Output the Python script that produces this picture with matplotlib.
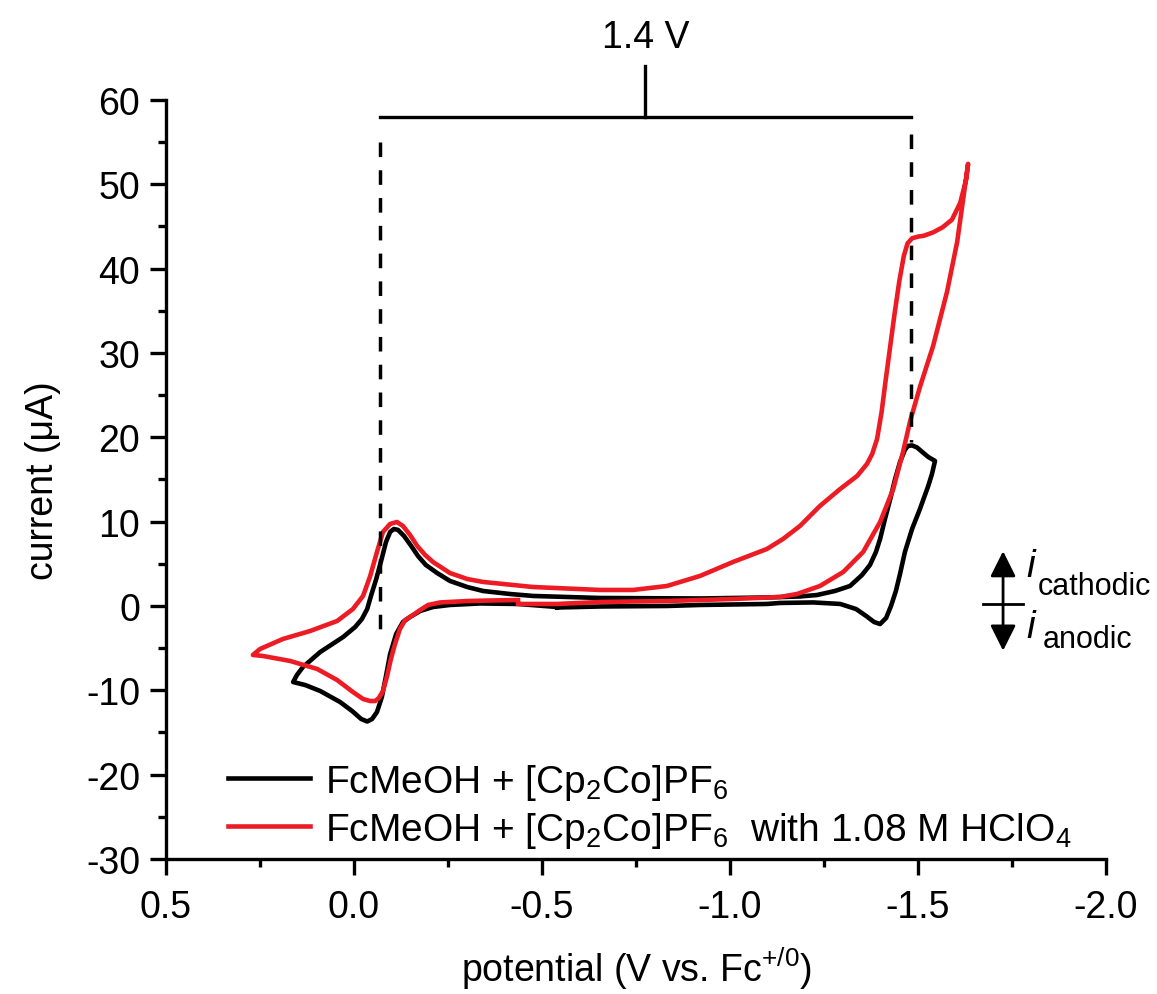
import numpy as np
import matplotlib
matplotlib.use('Agg')
import matplotlib.pyplot as plt

# cyclic voltammograms, potential (V vs Fc+/0) and current (uA)
black_v = [-0.540, -0.436, -0.335, -0.255, -0.210, -0.176, -0.149, -0.130, -0.112, -0.096,
           -0.085, -0.074, -0.061, -0.048, -0.035, -0.019, 0.005, 0.037, 0.090, 0.130,
           0.162, 0.152, 0.136, 0.090, 0.029, -0.003, -0.021, -0.035, -0.045, -0.059,
           -0.072, -0.085, -0.096, -0.106, -0.117, -0.133, -0.152, -0.170, -0.191, -0.221,
           -0.255, -0.301, -0.343, -0.415, -0.476, -0.654, -0.920, -1.098, -1.186, -1.231,
           -1.279, -1.319, -1.351, -1.372, -1.388, -1.399, -1.412, -1.426, -1.439, -1.452,
           -1.465, -1.473, -1.484, -1.497, -1.511, -1.527, -1.545, -1.537, -1.527, -1.505,
           -1.484, -1.465, -1.452, -1.441, -1.428, -1.415, -1.399, -1.383, -1.362, -1.335,
           -1.293, -1.221, -1.133, -1.098, -0.920, -0.832, -0.654, -0.540]
black_i = [-0.12, 0.24, 0.30, 0.12, -0.12, -0.59, -1.30, -1.90, -3.32, -5.69,
           -8.30, -10.79, -12.57, -13.40, -13.70, -13.40, -12.46, -11.39, -10.08, -9.37,
           -9.02, -8.19, -7.24, -5.46, -3.68, -2.49, -1.54, -0.36, 1.19, 3.20,
           5.34, 7.59, 8.78, 9.13, 9.02, 8.30, 7.12, 5.93, 4.86, 3.91,
           2.97, 2.25, 1.78, 1.42, 1.19, 0.95, 0.89, 1.01, 1.13, 1.30,
           1.78, 2.37, 3.68, 4.86, 6.41, 7.95, 10.32, 12.69, 15.07, 17.08,
           18.51, 18.98, 19.04, 18.80, 18.27, 17.67, 17.20, 15.66, 14.23, 11.51,
           9.13, 6.41, 3.80, 1.78, 0.0, -1.42, -2.14, -1.90, -1.19, -0.36,
           0.24, 0.42, 0.36, 0.24, 0.12, 0.0, -0.06, -0.18]

red_v = [-0.436, -0.362, -0.301, -0.229, -0.197, -0.176, -0.157, -0.136, -0.122, -0.109,
         -0.098, -0.088, -0.077, -0.066, -0.056, -0.043, -0.024, 0.003, 0.045, 0.098,
         0.170, 0.242, 0.269, 0.250, 0.189, 0.117, 0.045, 0.003, -0.024, -0.043,
         -0.061, -0.077, -0.096, -0.114, -0.130, -0.149, -0.168, -0.189, -0.210, -0.255,
         -0.301, -0.343, -0.476, -0.654, -0.742, -0.832, -0.920, -1.008, -1.098, -1.141,
         -1.186, -1.239, -1.293, -1.338, -1.364, -1.378, -1.391, -1.403, -1.413, -1.425,
         -1.437, -1.450, -1.462, -1.472, -1.484, -1.500, -1.515, -1.540, -1.565, -1.590,
         -1.612, -1.628, -1.633, -1.620, -1.604, -1.577, -1.540, -1.505, -1.479, -1.460,
         -1.434, -1.399, -1.354, -1.301, -1.239, -1.178, -1.133, -1.008, -0.832, -0.654,
         -0.540, -0.436]
red_i = [0.71, 0.65, 0.59, 0.42, 0.12, -0.47, -1.07, -1.66, -2.73, -4.51,
         -6.29, -8.30, -10.08, -10.91, -11.27, -11.27, -11.03, -10.20, -8.78, -7.47,
         -6.52, -5.93, -5.81, -5.10, -3.91, -2.97, -1.78, -0.36, 1.19, 3.56,
         6.41, 8.78, 9.73, 9.96, 9.49, 8.42, 7.12, 6.05, 5.22, 3.91,
         3.20, 2.85, 2.25, 1.90, 1.90, 2.37, 3.56, 5.22, 6.76, 7.95,
         9.49, 11.86, 13.88, 15.42, 16.84, 18.03, 19.81, 23.00, 26.50, 30.50,
         34.50, 38.50, 41.50, 43.00, 43.60, 43.80, 43.90, 44.30, 44.90, 45.80,
         47.80, 50.60, 52.43, 48.28, 43.18, 37.25, 30.84, 25.98, 21.95, 18.27,
         13.88, 9.96, 6.41, 4.03, 2.37, 1.42, 1.07, 0.83, 0.59, 0.47,
         0.24, 0.24]

labels = ['FcMeOH + [Cp$_{2}$Co]PF$_{6}$',
          'FcMeOH + [Cp$_{2}$Co]PF$_{6}$  with 1.08 M HClO$_{4}$']
window_left = -0.07
window_right = -1.48
window_label = '1.4 V'

plt.rcParams['font.family'] = ['Liberation Sans', 'DejaVu Sans']
plt.rcParams['mathtext.fontset'] = 'custom'
plt.rcParams['mathtext.rm'] = 'Liberation Sans'
plt.rcParams['mathtext.it'] = 'Liberation Sans:italic'
plt.rcParams['axes.unicode_minus'] = False
plt.rcParams['font.size'] = 27

fig = plt.figure(figsize=(11.57, 9.95), dpi=100)
ax = fig.add_axes([0.1435, 0.1357, 0.8125, 0.7628])

red = '#ed1c24'
ax.plot(black_v, black_i, color='black', lw=3.3, solid_joinstyle='round', label=labels[0])
ax.plot(red_v, red_i, color=red, lw=3.3, solid_joinstyle='round', label=labels[1])

ax.set_xlim(0.5, -2.0)
ax.set_ylim(-30, 60)
ax.set_xticks([0.5, 0.0, -0.5, -1.0, -1.5, -2.0])
ax.set_xticks([0.25, -0.25, -0.75, -1.25, -1.75], minor=True)
ax.set_yticks(np.arange(-30, 61, 10))
ax.set_yticks(np.arange(-25, 60, 10), minor=True)
ax.xaxis.set_major_formatter(matplotlib.ticker.FormatStrFormatter('%.1f'))

for s in ['top', 'right']:
    ax.spines[s].set_visible(False)
for s in ['left', 'bottom']:
    ax.spines[s].set_linewidth(2.4)
ax.tick_params(which='major', direction='out', length=11.5, width=2.4, pad=7)
ax.tick_params(which='minor', direction='out', length=5.8, width=2.4)
ax.tick_params(axis='x', which='major', pad=10)

ax.set_xlabel('potential (V vs. Fc$^{+/0}$)', labelpad=14)
ax.set_ylabel('current (μA)', labelpad=18)

# voltage window bracket
ax.plot([window_left, window_right], [58, 58], color='black', lw=2.4, clip_on=False)
mid = (window_left + window_right) / 2
ax.plot([mid, mid], [58, 64], color='black', lw=2.4, clip_on=False)
ax.text(mid, 65.3, window_label, ha='center', va='bottom')
ax.plot([window_left, window_left], [55, -3], color='black', lw=2.5,
        linestyle=(0, (4.2, 3.8)), clip_on=False)
ax.plot([window_right, window_right], [56, 19.5], color='black', lw=2.5,
        linestyle=(0, (4.2, 3.8)), clip_on=False)

# current sign convention marker
ax.plot([-1.673, -1.779], [0.2, 0.2], color='black', lw=2, clip_on=False)
ax.annotate('', xy=(-1.726, 6.5), xytext=(-1.726, -5.3),
            arrowprops=dict(arrowstyle='<|-|>,head_length=0.6,head_width=0.3',
                            color='black', lw=2, shrinkA=0, shrinkB=0,
                            mutation_scale=26), annotation_clip=False)
ax.text(-1.787, 3.56, 'i', style='italic', fontsize=28, ha='left', va='baseline')
ax.text(-1.819, 1.42, 'cathodic', fontsize=22, ha='left', va='baseline')
ax.text(-1.787, -3.68, 'i', style='italic', fontsize=28, ha='left', va='baseline')
ax.text(-1.832, -4.86, 'anodic', fontsize=22, ha='left', va='baseline')

ax.legend(loc='lower left', bbox_to_anchor=(0.033, -0.029), frameon=False, fontsize=28,
          handlelength=2.1, handletextpad=0.4, labelspacing=0.2, borderpad=0.3)

fig.savefig('out.png', dpi=100)
